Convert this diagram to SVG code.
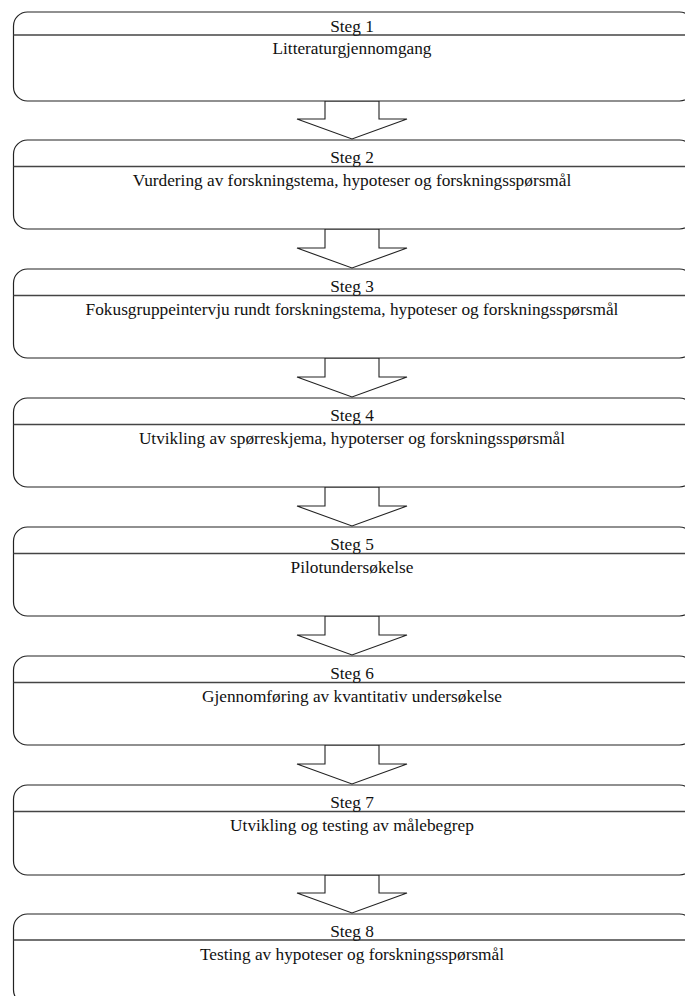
<svg xmlns="http://www.w3.org/2000/svg" width="685" height="996" viewBox="0 0 685 996">
<style>
.box{fill:#fff;stroke:#222;stroke-width:1.2}
.div{stroke:#444;stroke-width:1.6}
.arr{fill:#fff;stroke:#222;stroke-width:1.1;stroke-linejoin:miter}
.t{font-family:'Liberation Serif','Times New Roman',Times,'DejaVu Serif',serif;font-size:17.3px;fill:#111;text-anchor:middle}
</style>
<rect x="0" y="0" width="685" height="996" fill="#fff"/>
<g id="connectors">
<polygon class="arr" points="325,101 325,119 297,119 352,139 407,119 379,119 379,101"/>
<polygon class="arr" points="325,229 325,248 297,248 352,268 407,248 379,248 379,229"/>
<polygon class="arr" points="325,358 325,377 297,377 352,397 407,377 379,377 379,358"/>
<polygon class="arr" points="325,487 325,506 297,506 352,526 407,506 379,506 379,487"/>
<polygon class="arr" points="325,616 325,635 297,635 352,655 407,635 379,635 379,616"/>
<polygon class="arr" points="325,745 325,764 297,764 352,784 407,764 379,764 379,745"/>
<polygon class="arr" points="325,875 325,893 297,893 352,913 407,893 379,893 379,875"/>
</g>
<g id="step1">
<rect class="box" x="13.5" y="12" width="680" height="89" rx="14"/>
<line class="div" x1="13.5" y1="35" x2="693.5" y2="35"/>
<text class="t" x="352" y="32">Steg 1</text>
<text class="t" x="352" y="54">Litteraturgjennomgang</text>
</g>
<g id="step2">
<rect class="box" x="13.5" y="140" width="680" height="89" rx="14"/>
<line class="div" x1="13.5" y1="166.5" x2="693.5" y2="166.5"/>
<text class="t" x="352" y="163">Steg 2</text>
<text class="t" x="352" y="186">Vurdering av forskningstema, hypoteser og forskningsspørsmål</text>
</g>
<g id="step3">
<rect class="box" x="13.5" y="269" width="680" height="89" rx="14"/>
<line class="div" x1="13.5" y1="295.5" x2="693.5" y2="295.5"/>
<text class="t" x="352" y="292">Steg 3</text>
<text class="t" x="352" y="315">Fokusgruppeintervju rundt forskningstema, hypoteser og forskningsspørsmål</text>
</g>
<g id="step4">
<rect class="box" x="13.5" y="398" width="680" height="89" rx="14"/>
<line class="div" x1="13.5" y1="424.5" x2="693.5" y2="424.5"/>
<text class="t" x="352" y="421">Steg 4</text>
<text class="t" x="352" y="444">Utvikling av spørreskjema, hypoterser og forskningsspørsmål</text>
</g>
<g id="step5">
<rect class="box" x="13.5" y="527" width="680" height="89" rx="14"/>
<line class="div" x1="13.5" y1="553.5" x2="693.5" y2="553.5"/>
<text class="t" x="352" y="550">Steg 5</text>
<text class="t" x="352" y="573">Pilotundersøkelse</text>
</g>
<g id="step6">
<rect class="box" x="13.5" y="656" width="680" height="89" rx="14"/>
<line class="div" x1="13.5" y1="682.5" x2="693.5" y2="682.5"/>
<text class="t" x="352" y="679">Steg 6</text>
<text class="t" x="352" y="702">Gjennomføring av kvantitativ undersøkelse</text>
</g>
<g id="step7">
<rect class="box" x="13.5" y="785" width="680" height="90" rx="14"/>
<line class="div" x1="13.5" y1="811.5" x2="693.5" y2="811.5"/>
<text class="t" x="352" y="808">Steg 7</text>
<text class="t" x="352" y="831">Utvikling og testing av målebegrep</text>
</g>
<g id="step8">
<rect class="box" x="13.5" y="914" width="680" height="90" rx="14"/>
<line class="div" x1="13.5" y1="940" x2="693.5" y2="940"/>
<text class="t" x="352" y="937">Steg 8</text>
<text class="t" x="352" y="960">Testing av hypoteser og forskningsspørsmål</text>
</g>
</svg>
